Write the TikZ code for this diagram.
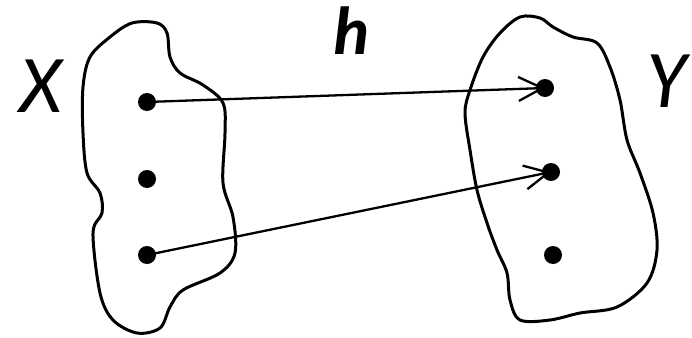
\documentclass[tikz,border=0pt]{standalone}
\usepackage{fontspec}
\setmainfont{Carlito}
\usetikzlibrary{arrows.meta}
\tikzset{
  blob/.style={draw=black, line width=3pt, line join=round},
  elem/.style={circle, fill=black, inner sep=0pt, minimum size=18pt},
  mapsto/.style={draw=black, line width=2.3pt, -{Straight Barb[length=24pt, width=24pt, line width=2.3pt]}},
  setlabel/.style={inner sep=0pt, font=\fontsize{82}{82}\selectfont\itshape},
  maplabel/.style={inner sep=0pt, font=\fontsize{68}{68}\selectfont\bfseries\itshape}
}
\begin{document}
\begin{tikzpicture}[x=1pt, y=-1pt]
\useasboundingbox (0,0) rectangle (692,337);
% left set
\draw[blob] plot[smooth cycle, tension=0.55] coordinates {
 (132,23) (157,23) (167,33) (170,57) (180,73) (203,85) (223,103) (225,133)
 (223,183) (233,217) (235,253) (220,273) (183,290) (170,307) (160,328)
 (137,333) (113,320) (100,293) (93,233) (102,213) (100,193) (87,173)
 (83,133) (83,87) (90,57) (110,37)};
% right set
\draw[blob] plot[smooth cycle, tension=0.55] coordinates {
 (520,17) (540,18) (553,27) (573,37) (597,43) (610,67) (620,100) (627,140)
 (640,173) (653,213) (657,250) (647,283) (617,307) (580,313) (550,320)
 (520,320) (510,300) (507,273) (497,250) (487,223) (477,190) (470,150)
 (465,113) (470,90) (483,57) (500,33)};
\node[elem] (x1) at (147,102) {};
\node[elem] (x2) at (147,179) {};
\node[elem] (x3) at (147,255) {};
\node[elem] (y1) at (545,88) {};
\node[elem] (y2) at (551,172) {};
\node[elem] (y3) at (553,255) {};
\draw[mapsto] (x1.center) -- (y1.center);
\draw[mapsto] (x3.center) -- (y2.center);
\node[setlabel] (X) at (41,86) {X};
\node[setlabel] (Y) at (666,81) {Y};
\node[maplabel] (h) at (351,31) {h};
\end{tikzpicture}
\end{document}
